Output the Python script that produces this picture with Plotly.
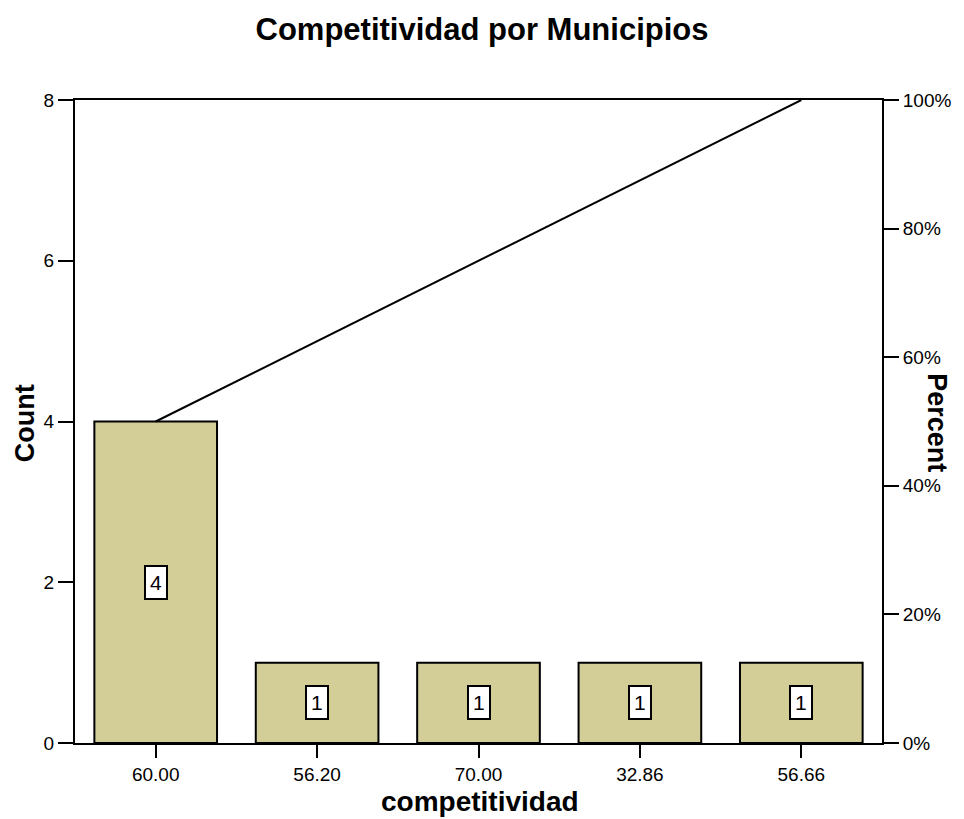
import plotly.graph_objects as go

categories = ["60.00", "56.20", "70.00", "32.86", "56.66"]
counts = [4, 1, 1, 1, 1]
count_ticks = [0, 2, 4, 6, 8]
percent_ticks = [0, 20, 40, 60, 80, 100]

total = sum(counts)
cum_pct = []
running = 0
for c in counts:
    running += c
    cum_pct.append(running / total * 100)

xpos = list(range(len(categories)))
FONT = "Liberation Sans, Arial, sans-serif"

# page body has an 8px default margin; compensate so the plot lands where the reference has it
W, H = 956, 811
L, T = 67, 92
R = W - 877
B = H - 735
PW = W - L - R
PH = H - T - B


def px_to_paper(px, py):
    # px, py in window pixel coordinates
    fx = px - 8
    fy = py - 8
    return (fx - L) / PW, (H - B - fy) / PH


fig = go.Figure()
fig.add_trace(go.Bar(
    x=xpos, y=counts, width=0.76,
    marker=dict(color="#D3CE98", line=dict(color="black", width=2)),
    showlegend=False, hoverinfo="skip",
))
fig.add_trace(go.Scatter(
    x=xpos, y=cum_pct, yaxis="y2", mode="lines",
    line=dict(color="black", width=2), showlegend=False, hoverinfo="skip",
))

annotations = []
for i, c in enumerate(counts):
    annotations.append(dict(
        x=i, y=c / 2, xref="x", yref="y", text=str(c), showarrow=False,
        font=dict(family=FONT, size=21, color="black"),
        bgcolor="white", bordercolor="black", borderwidth=2, borderpad=4,
    ))
cx, cy = px_to_paper(25, 423)
annotations.append(dict(
    x=cx, y=cy, xref="paper", yref="paper", text="<b>Count</b>",
    showarrow=False, textangle=-90, xanchor="center", yanchor="middle",
    font=dict(family=FONT, size=27, color="black"),
))
px_, py_ = px_to_paper(940, 423)
annotations.append(dict(
    x=px_, y=py_, xref="paper", yref="paper", text="<b>Percent</b>",
    showarrow=False, textangle=90, xanchor="center", yanchor="middle",
    font=dict(family=FONT, size=27, color="black"),
))
tx, ty = px_to_paper(482, 801)
annotations.append(dict(
    x=tx, y=ty, xref="paper", yref="paper", text="<b>competitividad</b>",
    showarrow=False, xanchor="center", yanchor="middle",
    font=dict(family=FONT, size=28, color="black"),
))

fig.update_layout(
    width=W, height=H,
    margin=dict(l=L, r=R, t=T, b=B),
    paper_bgcolor="white", plot_bgcolor="white",
    title=dict(text="<b>Competitividad por Municipios</b>", x=(482 - 8) / W,
               xanchor="center", y=1 - (29 - 8) / H, yanchor="middle",
               font=dict(family=FONT, size=31, color="black")),
    font=dict(family=FONT, size=19, color="black"),
    xaxis=dict(
        range=[-0.5, len(categories) - 0.5], tickmode="array", tickvals=xpos,
        ticktext=categories, showline=True, mirror=True, linecolor="black",
        linewidth=2, ticks="outside", ticklen=13, tickwidth=2, tickcolor="black",
        showgrid=False, zeroline=False, tickfont=dict(size=19),
    ),
    yaxis=dict(
        range=[0, 8], tickmode="array", tickvals=count_ticks, showline=True,
        linecolor="black", linewidth=2, ticks="outside", ticklen=15, tickwidth=2,
        tickcolor="black", showgrid=False, zeroline=False, tickfont=dict(size=19),
    ),
    yaxis2=dict(
        range=[0, 100], overlaying="y", side="right", tickmode="array",
        tickvals=percent_ticks, ticktext=[f"{v}%" for v in percent_ticks],
        showline=True, linecolor="black",
        linewidth=2, ticks="outside", ticklen=15, tickwidth=2, tickcolor="black",
        showgrid=False, zeroline=False, tickfont=dict(size=19),
    ),
    annotations=annotations,
)

fig.write_html("out.html")
